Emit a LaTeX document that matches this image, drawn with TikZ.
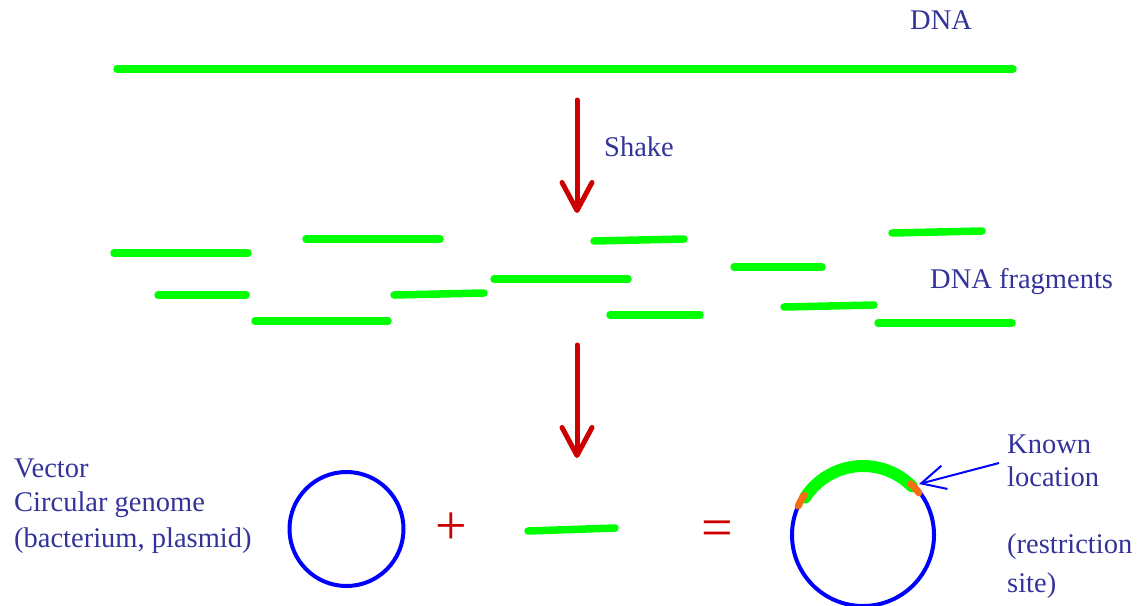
\documentclass[tikz,border=0pt]{standalone}
\usepackage{fontspec}
\setmainfont{Liberation Serif}
\usepackage{tikz}
\usetikzlibrary{arrows.meta}
\usepackage{xcolor}
\definecolor{labelblue}{RGB}{51,51,153}
\definecolor{arrowred}{RGB}{204,0,0}
\definecolor{dnagreen}{RGB}{0,255,0}
\definecolor{siteorange}{RGB}{245,110,20}

\begin{document}
\begin{tikzpicture}[x=1pt, y=1pt,
    label/.style={labelblue, font=\fontsize{28.5}{34}\selectfont, inner sep=0pt, anchor=base west},
    strand/.style={dnagreen, line width=7.5pt, line cap=round},
    bigarrow/.style={arrowred, line width=5pt, line cap=round, -{Straight Barb[length=28pt, width=30pt, round]}},
    thinarrow/.style={blue, line width=2pt, -{Straight Barb[length=24pt, width=24pt]}},
    sign/.style={arrowred, font=\fontsize{56}{60}\selectfont, inner sep=0pt, anchor=base},
    ring/.style={blue, line width=4pt}]
    \useasboundingbox (0,0) rectangle (1139,-605);

    % whole DNA
    \coordinate (dnaL) at (117,-69);
    \coordinate (dnaR) at (1013,-69);
    \draw[strand] (dnaL) -- (dnaR);
    \node[label] (dna) at (910,-29) {DNA};

    % shake it
    \coordinate (shakeTop) at (577,-100);
    \coordinate (shakeTip) at (577,-213);
    \draw[bigarrow] (shakeTop) -- (shakeTip);
    \node[label] (shake) at (604,-156) {Shake};

    % fragments
    \foreach \xa/\ya/\xb/\yb in {114/253/248/253, 306/239/440/239, 158/295/246/295,
        255/321/388/321, 394/295/484/293, 494/279/628/279, 594/241/684/239,
        610/315/700/315, 734/267/822/267, 784/307/874/305, 892/233/982/231,
        878/323/1012/323}
        \draw[strand] (\xa,-\ya) -- (\xb,-\yb);
    \node[label] (frags) at (930,-288) {DNA fragments};

    \coordinate (cloneTop) at (577,-345);
    \coordinate (cloneTip) at (577,-458);
    \draw[bigarrow] (cloneTop) -- (cloneTip);

    % vector
    \node[label] (vecA) at (14,-477) {Vector};
    \node[label] (vecB) at (14,-511) {Circular genome};
    \node[label] (vecC) at (14,-547) {(bacterium, plasmid)};
    \coordinate (vector) at (346.5,-529);
    \draw[ring] (vector) circle[radius=57pt];

    \node[sign] (plus) at (451,-544) {+};
    \coordinate (insL) at (528,-531);
    \coordinate (insR) at (615,-528);
    \draw[strand] (insL) -- (insR);
    \node[sign] (equals) at (717.5,-546) {=};

    % recombinant plasmid
    \coordinate (plasmid) at (863,-535);
    \draw[ring] (plasmid) circle[radius=71pt];
    \draw[dnagreen, line width=12pt, line cap=round]
        ([shift={(147:69pt)}]plasmid) arc[start angle=147, end angle=45, radius=69pt];
    \draw[siteorange, line width=7pt, line cap=round]
        ([shift={(156:71pt)}]plasmid) arc[start angle=156, end angle=146, radius=71pt];
    \draw[siteorange, line width=7pt, line cap=round]
        ([shift={(47:70pt)}]plasmid) arc[start angle=47, end angle=37, radius=70pt];

    \node[label] (known) at (1007,-453) {Known};
    \node[label] (loc) at (1007,-486) {location};
    \node[label] (restr) at (1007,-553) {(restriction};
    \node[label] (site) at (1007,-592) {site)};
    \coordinate (knownTail) at (999,-463);
    \coordinate (siteTip) at (919,-484);
    \draw[thinarrow] (knownTail) -- (siteTip);
\end{tikzpicture}
\end{document}
